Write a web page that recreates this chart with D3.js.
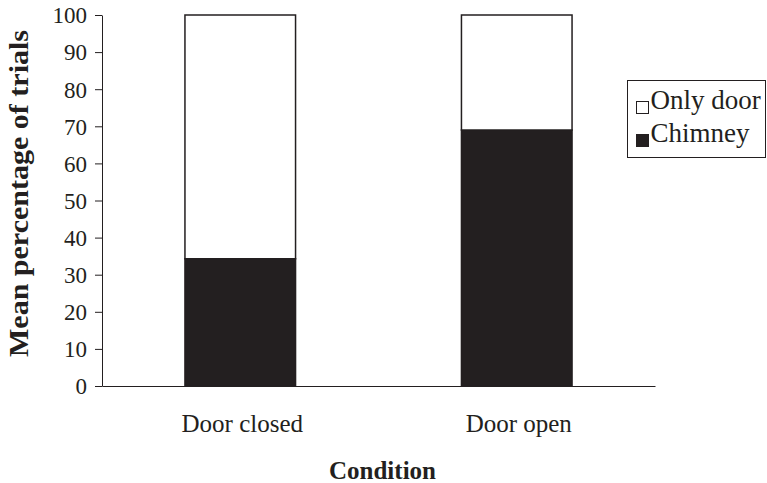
<!DOCTYPE html>
<html>
<head>
<meta charset="utf-8">
<script src="https://cdn.jsdelivr.net/npm/d3@7"></script>
<style>
  body { margin: 0; background: #fff; }
  text { font-family: "Liberation Serif", "Times New Roman", serif; fill: #231f20; }
</style>
</head>
<body>
<svg id="chart" width="767" height="483"></svg>
<script>
// data
const conditions = ["Door closed", "Door open"];
const chimney = [34.3, 69.0];
const onlyDoor = [65.7, 31.0];
const seriesNames = ["Only door", "Chimney"];
const yTicks = [0, 10, 20, 30, 40, 50, 60, 70, 80, 90, 100];

const margin = {top: 15, right: 112, bottom: 97, left: 102},
    width = 767 - margin.left - margin.right,
    height = 483 - margin.top - margin.bottom;

const svg = d3.select("#chart")
    .append("g")
    .attr("transform", `translate(${margin.left},${margin.top})`);

const x = d3.scaleBand()
    .domain(conditions)
    .range([0, width])
    .paddingInner(0.6)
    .paddingOuter(0.3);

const y = d3.scaleLinear()
    .domain([0, 100])
    .range([height, 0]);

// 積み上げデータ
const rows = conditions.map((c, i) => ({cond: c, "Chimney": chimney[i], "Only door": onlyDoor[i]}));
const stack = d3.stack().keys(["Chimney", "Only door"])(rows);
const fills = {"Chimney": "#231f20", "Only door": "#fff"};

svg.selectAll(".layer")
    .data(stack)
    .join("g")
    .attr("class", "layer")
    .attr("fill", d => fills[d.key])
    .selectAll("rect")
    .data(d => d)
    .join("rect")
    .attr("x", d => x(d.data.cond))
    .attr("width", x.bandwidth())
    .attr("y", d => y(d[1]))
    .attr("height", d => y(d[0]) - y(d[1]))
    .attr("stroke", "#231f20")
    .attr("stroke-width", 1.5);

// y軸
svg.append("g")
    .call(d3.axisLeft(y).tickValues(yTicks).tickSize(7).tickPadding(8).tickSizeOuter(0))
    .call(g => g.selectAll("path, line").attr("stroke", "#231f20"))
    .call(g => g.selectAll("text").style("font-size", "23px").attr("dy", "0.34em"));

// x軸
svg.append("g")
    .attr("transform", `translate(0,${height})`)
    .call(d3.axisBottom(x).tickSize(0).tickSizeOuter(0).tickPadding(28))
    .call(g => g.selectAll("path").attr("stroke", "#231f20"))
    .call(g => g.selectAll("text").style("font-size", "25px").attr("dx", 2));

// 軸タイトル
svg.append("text")
    .attr("x", width / 2 + 4)
    .attr("y", height + 93)
    .attr("text-anchor", "middle")
    .style("font-size", "25px")
    .style("font-weight", "bold")
    .text("Condition");

svg.append("text")
    .attr("transform", `translate(${28 - margin.left},${193.5 - margin.top}) rotate(-90)`)
    .attr("text-anchor", "middle")
    .attr("textLength", 327)
    .attr("lengthAdjust", "spacingAndGlyphs")
    .style("font-size", "27px")
    .style("font-weight", "bold")
    .text("Mean percentage of trials");

// 凡例
const legend = d3.select("#chart").append("g")
    .attr("transform", "translate(627.5,80.5)");

legend.append("rect")
    .attr("width", 138)
    .attr("height", 77)
    .attr("fill", "#fff")
    .attr("stroke", "#231f20")
    .attr("stroke-width", 1);

const items = legend.selectAll(".item")
    .data(seriesNames)
    .join("g")
    .attr("class", "item")
    .attr("transform", (d, i) => `translate(9,${21 + i * 33})`);

items.append("rect")
    .attr("width", 12)
    .attr("height", 12)
    .attr("fill", d => fills[d])
    .attr("stroke", "#231f20")
    .attr("stroke-width", 1);

items.append("text")
    .attr("x", 14)
    .attr("y", 7)
    .style("font-size", "27px")
    .text(d => d);
</script>
</body>
</html>
